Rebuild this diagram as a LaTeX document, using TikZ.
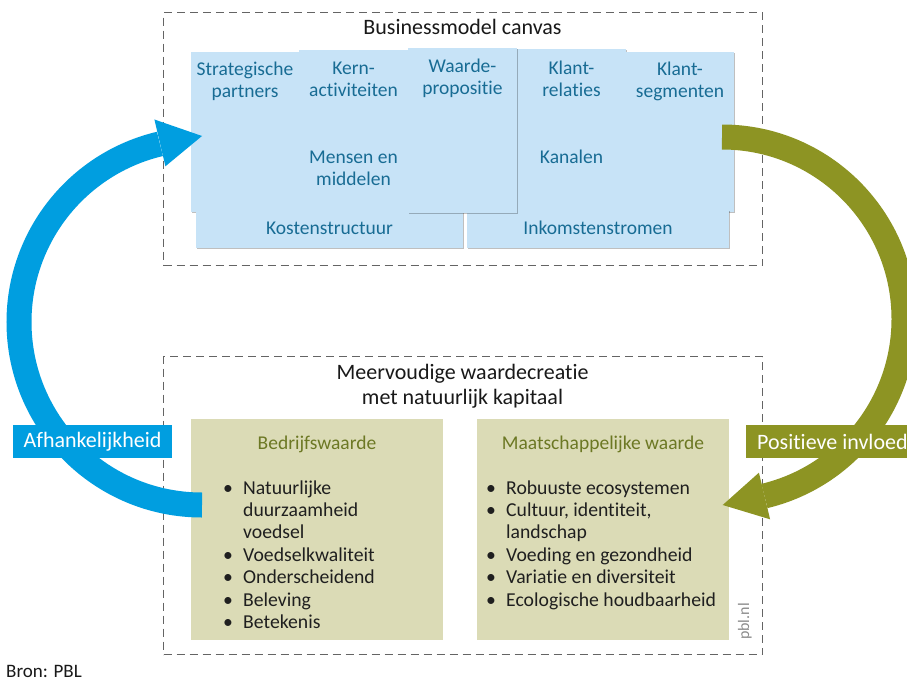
\documentclass[tikz,border=0pt]{standalone}
\usepackage{fontspec}
\setmainfont{Carlito}[Ligatures={NoCommon}, Contextuals={NoAlternate}]
\usetikzlibrary{shadows}
\definecolor{cellblue}{RGB}{199,227,247}
\definecolor{celltext}{RGB}{24,108,148}
\definecolor{arrowblue}{RGB}{0,158,224}
\definecolor{arrowolive}{RGB}{141,148,35}
\definecolor{boxgreen}{RGB}{219,219,182}
\definecolor{olivetext}{RGB}{108,120,36}
\definecolor{dashgray}{RGB}{100,100,100}
\newcommand\bul{\textbullet}
\begin{document}
\begin{tikzpicture}[x=1pt,y=-1pt,
  dbox/.style={draw=dashgray, dash pattern=on 8pt off 5pt, line width=1.2pt, anchor=north west, inner sep=0pt},
  cell/.style={fill=cellblue, anchor=north west, inner sep=0pt,
     drop shadow={shadow xshift=1.2pt, shadow yshift=-1.2pt, fill=black, opacity=0.25}},
  ctext/.style={font=\fontsize{19.5}{22}\selectfont, text=celltext, align=center, anchor=base, inner sep=0pt},
  title/.style={font=\fontsize{22}{25}\selectfont, text=black!90, align=center, anchor=base, inner sep=0pt},
  gbox/.style={fill=boxgreen, anchor=north west, inner sep=0pt, minimum width=252pt, minimum height=221pt},
  gtitle/.style={font=\fontsize{19.5}{22}\selectfont, text=olivetext, anchor=base, inner sep=0pt},
  listnode/.style={font=\fontsize{19.7}{22.4}\selectfont, text=black!88, anchor=base west, inner sep=0pt},
  band/.style={line width=25pt},
  lab/.style={text=white, font=\fontsize{22}{26}\selectfont, minimum height=33pt, inner ysep=0pt}
]
\clip (0,0) rectangle (907,682);
\fill[white] (0,0) rectangle (907,682);

% dashed frames
\node[dbox, minimum width=599pt, minimum height=253pt] (topframe) at (163,12) {};
\node[dbox, minimum width=599pt, minimum height=298pt] (botframe) at (163,356) {};

% canvas cells
\node[cell, minimum width=108pt, minimum height=160pt] (sp) at (191,52) {};
\node[cell, minimum width=109pt, minimum height=87pt] (ka) at (299,50) {};
\node[cell, minimum width=109pt, minimum height=74pt] (mm) at (299,137) {};
\node[cell, minimum width=109pt, minimum height=88pt] (kr) at (517,49) {};
\node[cell, minimum width=109pt, minimum height=74pt] (kn) at (517,137) {};
\node[cell, minimum width=108pt, minimum height=160pt] (ks) at (626,52) {};
\node[cell, minimum width=267pt, minimum height=38pt] (ko) at (196,210) {};
\node[cell, minimum width=262pt, minimum height=38pt] (ik) at (467,210) {};
\node[cell, minimum width=109pt, minimum height=165pt] (wp) at (408,48) {};

% green boxes
\node[gbox] (gl) at (191,419) {};
\node[gbox] (gr) at (477,419) {};

% blue arrow
\draw[band, arrowblue] (202,505) arc[start angle=90, end angle=256.7, radius=183];
\coordinate (bA) at (154.4,119.5);
\coordinate (bT) at (202,136);
\coordinate (bB) at (165.4,166.3);
\fill[arrowblue] (bA) -- (bT) -- (bB) -- cycle;

% green arrow
\draw[band, arrowolive] (722,137) arc[start angle=-90, end angle=76.5, radius=182];
\coordinate (gA) at (758.9,472.7);
\coordinate (gT) at (722.7,505);
\coordinate (gB) at (770.1,519.3);
\fill[arrowolive] (gA) -- (gT) -- (gB) -- cycle;

% arrow labels
\node[lab, fill=arrowblue, minimum width=159pt, inner xsep=0pt] (lblue) at (92.5,441.5) {Afhankelijkheid};
\node[lab, fill=arrowolive, anchor=west, inner xsep=11pt] (lolive) at (746,441.5) {Positieve invloed};

% titles (anchor base = last line's baseline)
\node[title] (t1) at (462.5,35) {Businessmodel canvas};
\node[title] (t2) at (462.5,404.3) {Meervoudige waardecreatie\\met natuurlijk kapitaal};

% canvas texts
\node[ctext] (tsp) at (245,98) {Strategische\\partners};
\node[ctext] (tka) at (353.5,97) {Kern-\\activiteiten};
\node[ctext] (twp) at (462.5,94.7) {Waarde-\\propositie};
\node[ctext] (tkr) at (571.5,97) {Klant-\\relaties};
\node[ctext] (tks) at (680,98) {Klant-\\segmenten};
\node[ctext] (tmm) at (353.5,185.5) {Mensen en\\middelen};
\node[ctext] (tkn) at (571.5,163.3) {Kanalen};
\node[ctext] (tko) at (329.5,234.3) {Kostenstructuur};
\node[ctext] (tik) at (598,234.3) {Inkomstenstromen};

% box titles
\node[gtitle] (tgl) at (317,449) {Bedrijfswaarde};
\node[gtitle] (tgr) at (603,449) {Maatschappelijke waarde};

% lists
\node[listnode] (ll) at (223,494) {\begin{tabular}[t]{@{}p{20pt}@{}l@{}}
\bul & Natuurlijke\\
 & duurzaamheid\\
 & voedsel\\
\bul & Voedselkwaliteit\\
\bul & Onderscheidend\\
\bul & Beleving\\
\bul & Betekenis
\end{tabular}};
\node[listnode] (lr) at (486,494) {\begin{tabular}[t]{@{}p{20pt}@{}l@{}}
\bul & Robuuste ecosystemen\\
\bul & Cultuur, identiteit,\\
 & landschap\\
\bul & Voeding en gezondheid\\
\bul & Variatie en diversiteit\\
\bul & Ecologische houdbaarheid
\end{tabular}};

% credits
\node[rotate=90, anchor=base west, text=black!45, font=\fontsize{16}{18}\selectfont, inner sep=0pt] (pbl) at (749,640) {pbl.nl};
\node[anchor=base west, font=\fontsize{19}{22}\selectfont, text=black!90, inner sep=0pt] (bron) at (6,677) {Bron: PBL};
\end{tikzpicture}
\end{document}
